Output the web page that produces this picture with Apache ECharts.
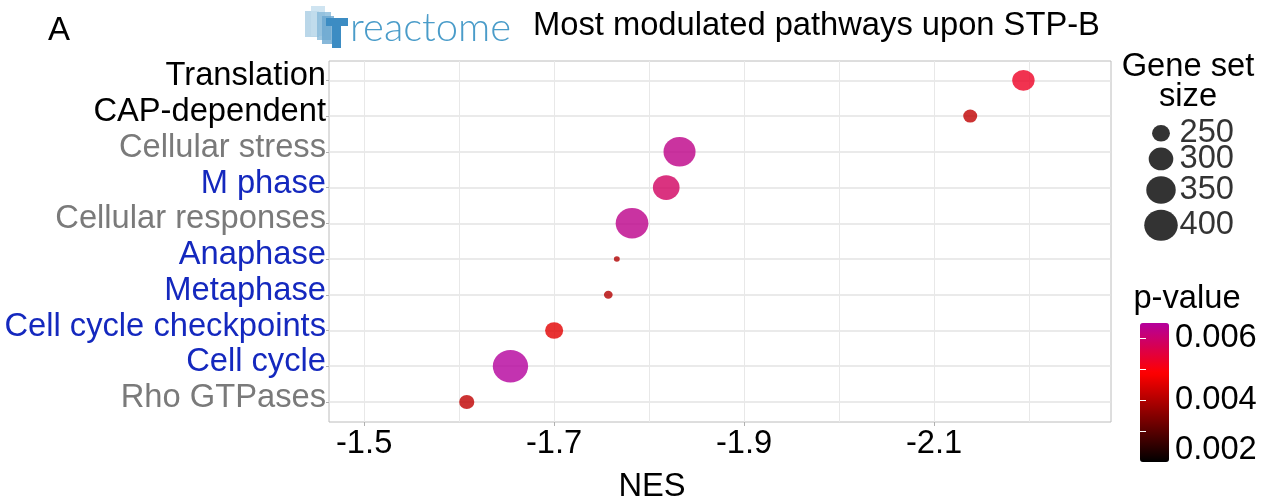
<!DOCTYPE html>
<html>
<head>
<meta charset="utf-8">
<script src="https://cdn.jsdelivr.net/npm/echarts@6/dist/echarts.min.js"></script>
<style>html,body{margin:0;padding:0;background:#fff}#c{width:1271px;height:501px}</style>
</head>
<body>
<div id="c"></div>
<script>
// ---------- data ----------
const pathways = ['Translation','CAP-dependent','Cellular stress','M phase','Cellular responses','Anaphase','Metaphase','Cell cycle checkpoints','Cell cycle','Rho GTPases'];
const labelGroup = ['k','k','g','b','g','b','b','b','b','g'];
const nes = [-2.194,-2.138,-1.832,-1.818,-1.782,-1.766,-1.757,-1.700,-1.654,-1.608];
const geneSetSize = [281,231,381,320,390,215,217,251,425,236];
const pValue = [0.00524,0.00415,0.00627,0.00586,0.0063,0.00398,0.00402,0.00454,0.00648,0.00415];
const xMajorTicks = [-1.5,-1.7,-1.9,-2.1];
const xGridTicks = [-1.5,-1.6,-1.7,-1.8,-1.9,-2.0,-2.1,-2.2];
const sizeBreaks = [250,300,350,400];
const pLabelTicks = [0.002,0.004,0.006];
const pMarkTicks = [0.003,0.004,0.005,0.006];
const pRange = [0.002,0.00648];

// ---------- helpers ----------
const FONT = 'Liberation Sans, Arial, sans-serif';
const FS = 32.7;
const sMin = Math.min(...geneSetSize), sMax = Math.max(...geneSetSize);
const PX_PER_MM = 5.45, STRETCH = 1.08;
function diam(s){ const f = Math.max(0,(s - sMin)/(sMax - sMin)); return (1 + 5*Math.sqrt(f)) * PX_PER_MM; }
function gradColor(t){
  let r,g=0,b;
  if (t < 0.64){ r = 255*t/0.64; b = 0; }
  else { const s=(t-0.64)/0.36; r = 255-75*s; b = 156*s; }
  const h=v=>Math.round(v).toString(16).padStart(2,'0');
  return '#'+h(r)+h(g)+h(b);
}
const stops = []; for (let i=0;i<=40;i++) stops.push(gradColor(i/40));

// legend key layout (key height = symbol height + 6)
const legendY = []; let acc = 0;
sizeBreaks.forEach(s=>{ const h = diam(s)+6; legendY.push(acc + h/2); acc += h; });

const n = pathways.length;
const mainData = pathways.map((p,i)=>[nes[i], n - i, pValue[i], geneSetSize[i]]);

const chart = echarts.init(document.getElementById('c'));
chart.setOption({
  animation:false,
  textStyle:{fontFamily:FONT},
  grid:[
    {left:329, top:61, width:782, height:361, show:true, borderColor:'#bcbcbc', borderWidth:1, backgroundColor:'transparent', outerBoundsMode:'none', containLabel:false},
    {left:1145, top:122, width:32, height:120, outerBoundsMode:'none', containLabel:false},
    {left:1140, top:323, width:29, height:139, outerBoundsMode:'none', containLabel:false}
  ],
  xAxis:[
    {gridIndex:0, type:'value', min:-2.2862, max:-1.463, inverse:true,
     axisLine:{show:false}, axisLabel:{show:false},
     axisTick:{show:false, customValues:xGridTicks},
     splitLine:{show:true, lineStyle:{color:'#e8e8e8', width:1}}},
    {gridIndex:0, type:'value', min:-2.2862, max:-1.463, inverse:true, position:'bottom',
     axisLine:{show:false}, splitLine:{show:false},
     axisTick:{show:true, length:4, customValues:xMajorTicks, lineStyle:{color:'#b0b0b0'}},
     axisLabel:{show:true, customValues:xMajorTicks, margin:5, fontSize:FS, color:'#000', fontFamily:FONT, hideOverlap:false,
       formatter:v=>v.toFixed(1)},
     name:'NES', nameLocation:'middle', nameGap:48,
     nameTextStyle:{fontSize:FS, color:'#000', fontFamily:FONT, padding:[0,136,0,0]}},
    {gridIndex:1, type:'value', min:0, max:1, show:false},
    {gridIndex:2, type:'value', min:0, max:1, show:false}
  ],
  yAxis:[
    {gridIndex:0, type:'value', min:0.44, max:10.54,
     axisLine:{show:false},
     axisTick:{show:true, length:3, customValues:pathways.map((p,i)=>n-i), lineStyle:{color:'#b0b0b0'}},
     splitLine:{show:true, lineStyle:{color:'#e3e3e3', width:1.6}},
     axisLabel:{show:true, customValues:pathways.map((p,i)=>n-i), margin:3, hideOverlap:false,
       formatter:(v)=>{ const i = n - Math.round(v); return '{'+labelGroup[i]+'|'+pathways[i]+'}'; },
       rich:{
         k:{color:'#000000', fontSize:FS, fontFamily:FONT, padding:[0,0,8,0]},
         g:{color:'#7a7a7a', fontSize:FS, fontFamily:FONT, padding:[0,0,8,0]},
         b:{color:'#1428be', fontSize:FS, fontFamily:FONT, padding:[0,0,8,0]}
       }}},
    {gridIndex:1, type:'value', min:0, max:120, inverse:true, show:false},
    {gridIndex:2, type:'value', min:pRange[0], max:pRange[1], position:'right', z:10,
     axisLine:{show:false}, splitLine:{show:false},
     axisTick:{show:true, inside:true, length:6, customValues:pMarkTicks, lineStyle:{color:'#ffffff', width:1}},
     axisLabel:{show:true, customValues:pLabelTicks, margin:6, hideOverlap:false, showMinLabel:true, showMaxLabel:true,
       formatter:v=>{ const s=v.toFixed(3); return Math.abs(v-pRange[0])<1e-9 ? '{lo|'+s+'}' : '{n|'+s+'}'; },
       rich:{ n:{fontSize:FS, color:'#000', fontFamily:FONT}, lo:{fontSize:FS, color:'#000', fontFamily:FONT, padding:[0,0,24,0]} }}},
    {gridIndex:2, type:'value', min:pRange[0], max:pRange[1], position:'left', z:10,
     axisLine:{show:false}, splitLine:{show:false}, axisLabel:{show:false},
     axisTick:{show:true, inside:true, length:6, customValues:pMarkTicks, lineStyle:{color:'#ffffff', width:1}}}
  ],
  visualMap:[{
    type:'continuous', seriesIndex:0, dimension:2, min:pRange[0], max:pRange[1],
    inRange:{color:stops}, calculable:false, hoverLink:false,
    itemWidth:29, itemHeight:139, left:1140, top:323, padding:0, orient:'vertical', show:true
  }],
  series:[
    {type:'scatter', xAxisIndex:0, yAxisIndex:0, data:mainData,
     symbol:'circle',
     symbolSize:(val)=>{ const d = diam(val[3]); return [d*STRETCH, d]; },
     itemStyle:{opacity:0.8}, z:5},
    {type:'scatter', xAxisIndex:2, yAxisIndex:1,
     data:sizeBreaks.map((s,i)=>[0.5, legendY[i], s]),
     symbol:'circle',
     symbolSize:(val)=>{ const d = diam(val[2]); return [d*STRETCH, d]; },
     itemStyle:{color:'#333333', opacity:1}},
    {type:'scatter', xAxisIndex:2, yAxisIndex:1,
     data:sizeBreaks.map((s,i)=>[1, legendY[i], s]),
     symbol:'circle', symbolSize:1, itemStyle:{color:'rgba(255,255,255,0)'},
     labelLayout:{hideOverlap:false},
     label:{show:true, position:'right', distance:2, formatter:p=>String(p.value[2]),
       fontSize:FS, color:'#000', fontFamily:FONT}},
    {type:'scatter', xAxisIndex:3, yAxisIndex:2, data:[]}
  ],
  graphic:[
    {type:'text', left:48, top:14, style:{text:'A', fontSize:33, fill:'#000', fontFamily:FONT}},
    {type:'group', children:[
      {type:'rect', shape:{x:305,y:11,width:14,height:26}, style:{fill:'#a9cde3', opacity:0.8}},
      {type:'rect', shape:{x:311,y:6,width:14,height:30}, style:{fill:'#c3ddee', opacity:0.8}},
      {type:'rect', shape:{x:317,y:12,width:14,height:28}, style:{fill:'#86b9da', opacity:0.8}},
      {type:'rect', shape:{x:322,y:16,width:12,height:28}, style:{fill:'#6aa6d0', opacity:0.8}},
      {type:'rect', shape:{x:326,y:18,width:22,height:8}, style:{fill:'#3c8cc3'}},
      {type:'rect', shape:{x:332,y:18,width:9,height:30}, style:{fill:'#3c8cc3'}}
    ]},
    {type:'text', x:350, y:28, style:{text:'reactome', fontSize:40, fontWeight:300, fill:'#4a9cc9', fontFamily:'Lato, Open Sans, sans-serif', textVerticalAlign:'middle'}},
    {type:'text', x:533, y:26, style:{text:'Most modulated pathways upon STP-B', fontSize:FS, fill:'#000', fontFamily:FONT, textVerticalAlign:'middle'}},
    {type:'text', x:1188, y:82, style:{text:'Gene set\nsize', fontSize:FS, lineHeight:30, fill:'#000', fontFamily:FONT, textAlign:'center', textVerticalAlign:'middle'}},
    {type:'text', x:1187, y:299, style:{text:'p-value', fontSize:FS, fill:'#000', fontFamily:FONT, textAlign:'center', textVerticalAlign:'middle'}}
  ]
});
</script>
</body>
</html>
